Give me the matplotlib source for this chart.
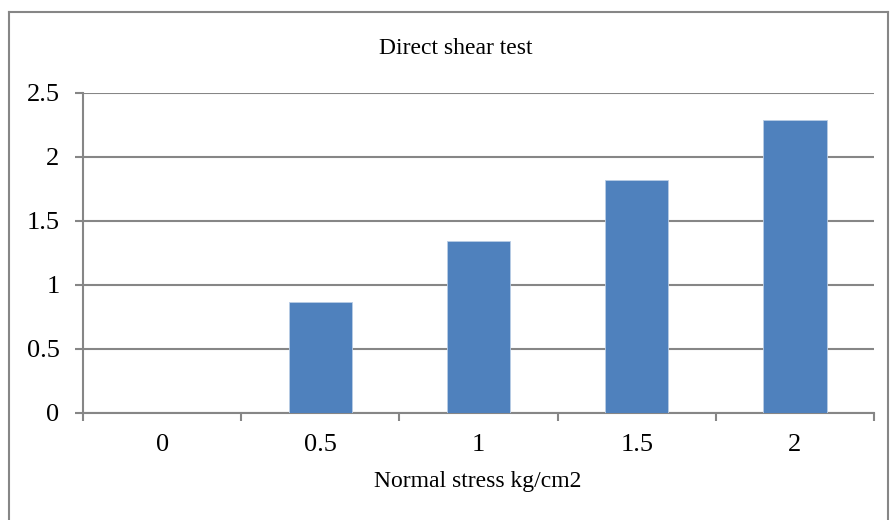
import numpy as np
import matplotlib.pyplot as plt
from matplotlib.lines import Line2D

# Data
categories = ['0', '0.5', '1', '1.5', '2']
shear_stress = [0.0, 0.867, 1.344, 1.82, 2.29]

plt.rcParams['font.family'] = ['Liberation Serif', 'DejaVu Serif']

fig = plt.figure(figsize=(8.9, 5.2), dpi=100)
ax = fig.add_axes([0.0933, 0.2058, 0.982 - 0.0933, 0.8212 - 0.2058])

x = np.arange(len(categories))
ax.bar(x, shear_stress, width=0.4, color='#4F81BD', edgecolor='#B9CDE5', linewidth=0.6, zorder=3)

ax.set_xlim(-0.5, len(categories) - 0.5)
ax.set_ylim(0, 2.5)
ax.set_yticks(np.arange(0, 2.51, 0.5))
ax.set_yticklabels(['0', '0.5', '1', '1.5', '2', '2.5'])
ax.yaxis.grid(True, color='#868686', linewidth=1.5, zorder=0)

# ticks on category boundaries, labels at centres
ax.set_xticks(np.arange(-0.5, len(categories), 1.0))
ax.set_xticklabels([])
ax.set_xticks(x, minor=True)
ax.set_xticklabels(categories, minor=True)
ax.tick_params(axis='x', which='major', direction='out', length=6, width=1.5, color='#868686')
ax.tick_params(axis='x', which='minor', length=0, pad=15, labelsize=19)
ax.tick_params(axis='y', direction='out', length=6, width=1.5, color='#868686', pad=11, labelsize=19)

for s in ['top', 'right']:
    ax.spines[s].set_visible(False)
for s in ['left', 'bottom']:
    ax.spines[s].set_color('#868686')
    ax.spines[s].set_linewidth(1.5)

fig.text(456 / 890, 1 - 48 / 520, 'Direct shear test', ha='center', va='center', fontsize=17)
fig.text(478 / 890, 1 - 481 / 520, 'Normal stress kg/cm2', ha='center', va='center', fontsize=17)

# outer chart border (top, left, right; bottom is cut off)
xl, xr, yt = 9 / 890, 888 / 890, 1 - 12 / 520
for xs, ys in [([xl, xr], [yt, yt]), ([xl, xl], [0, yt]), ([xr, xr], [0, yt])]:
    fig.add_artist(Line2D(xs, ys, transform=fig.transFigure, color='#868686', linewidth=1.5))

fig.savefig('out.png', dpi=100)
